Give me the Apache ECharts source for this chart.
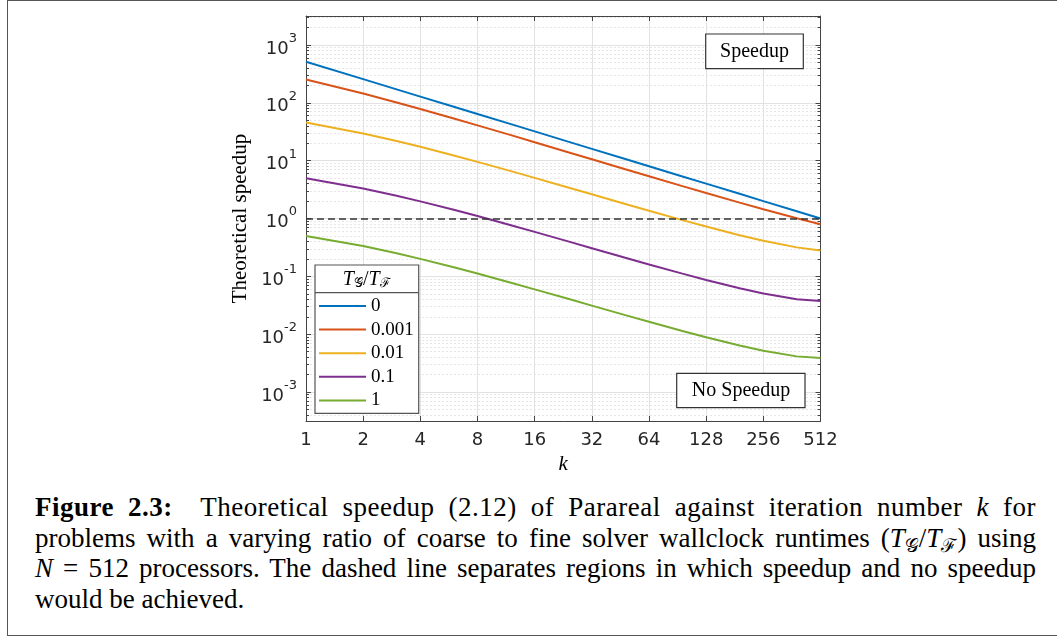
<!DOCTYPE html>
<html>
<head>
<meta charset="utf-8">
<script src="https://cdn.jsdelivr.net/npm/echarts@6/dist/echarts.min.js"></script>
<style>
  html, body { margin: 0; padding: 0; background: #fff; }
  body { width: 1057px; height: 640px; position: relative; overflow: hidden; }
  #frame { position: absolute; left: 7px; top: 0px; width: 1070px; height: 636px;
           border: 1px solid #555; box-sizing: border-box; }
  #chart { position: absolute; left: 0; top: 0; width: 1057px; height: 480px; }
  .cap { position: absolute; left: 35px; width: 1001px; font-family: "Liberation Serif", serif;
         font-size: 27px; line-height: 30.6px; color: #000; white-space: nowrap; }
  .just { text-align: justify; text-align-last: justify; }
  .m { font-style: italic; }
  .sub { font-size: 0.7em; vertical-align: -0.25em; font-style: normal; }
</style>
</head>
<body>
<div id="frame"></div>
<div id="chart"></div>
<div class="cap just" style="top: 492px; letter-spacing: 0.5px;"><b>Figure 2.3:</b>&nbsp; Theoretical speedup (2.12) of Parareal against iteration number <span class="m">k</span> for</div>
<div class="cap just" style="top: 522.6px;">problems with a varying ratio of coarse to fine solver wallclock runtimes (<span class="m">T</span><span class="sub">𝒢</span>/<span class="m">T</span><span class="sub">ℱ</span>) using</div>
<div class="cap just" style="top: 553.2px;"><span class="m">N</span> = 512 processors. The dashed line separates regions in which speedup and no speedup</div>
<div class="cap" style="top: 583.8px;">would be achieved.</div>
<script>
// iteration numbers k
const kValues = [1, 2, 3, 4, 6, 8, 12, 16, 24, 32, 48, 64, 96, 128, 192, 256, 384, 512];
// theoretical speedup for each ratio T_G / T_F
const speedup0 = [512, 256, 170.7, 128, 85.3, 64, 42.7, 32, 21.3, 16, 10.67, 8, 5.33, 4, 2.67, 2, 1.333, 1];
const speedup0001 = [253.1, 144.9, 101.5, 78.2, 53.5, 40.7, 27.6, 20.8, 14.0, 10.59, 7.12, 5.38, 3.63, 2.756, 1.88, 1.443, 1.009, 0.796];
const speedup001 = [45.6, 29.5, 21.9, 17.36, 12.3, 9.53, 6.58, 5.04, 3.44, 2.617, 1.783, 1.362, 0.938, 0.725, 0.515, 0.412, 0.317, 0.2805];
const speedup01 = [4.96, 3.297, 2.471, 1.977, 1.413, 1.101, 0.764, 0.587, 0.402, 0.3068, 0.2099, 0.1608, 0.1114, 0.0867, 0.0623, 0.0506, 0.0403, 0.0375];
const speedup1 = [0.5, 0.3336, 0.2504, 0.2005, 0.1435, 0.1118, 0.0777, 0.0596, 0.0409, 0.0312, 0.02137, 0.01638, 0.01135, 0.00884, 0.00636, 0.00517, 0.00414, 0.00388];
const ratioNames = ["0", "0.001", "0.01", "0.1", "1"];
const colors = ["#0072BD", "#D95319", "#EDB120", "#7E2F8E", "#77AC30"];

const chart = echarts.init(document.getElementById("chart"));
const serif = "Liberation Serif";

const allSeries = [speedup0, speedup0001, speedup001, speedup01, speedup1].map((vals, i) => ({
  name: ratioNames[i],
  type: "line",
  xAxisIndex: 0,
  yAxisIndex: 0,
  symbol: "none",
  z: 3,
  lineStyle: { width: 2, color: colors[i] },
  itemStyle: { color: colors[i] },
  data: kValues.map((k, j) => [k, vals[j]]),
}));
// dashed speedup = 1 line
allSeries[0].markLine = {
  silent: true,
  symbol: "none",
  label: { show: false },
  lineStyle: { color: "#333", width: 1.5, type: [7, 4] },
  data: [{ yAxis: 1 }],
};

const axisColor = "#444";
const gridColor = "#e2e2e2";

function yLabel(v) {
  const e = Math.log10(v);
  const r = Math.round(e);
  if (Math.abs(e - r) > 1e-6) return "";
  return "{b|10}{e|" + r + "}";
}

chart.setOption({
  animation: false,
  grid: { left: 306, right: 236.5, top: 16, bottom: 58 },
  legend: {
    orient: "vertical",
    left: 319,
    top: 296,
    padding: 0,
    icon: "rect",
    itemWidth: 47,
    itemHeight: 2,
    itemGap: 3.6,
    z: 5,
    data: ratioNames,
    textStyle: { fontFamily: serif, fontSize: 19, color: "#000", lineHeight: 20 },
  },
  xAxis: [
    {
      type: "log",
      logBase: 2,
      min: 1,
      max: 512,
      position: "bottom",
      name: "k",
      nameLocation: "middle",
      nameGap: 33,
      nameTextStyle: { fontFamily: serif, fontStyle: "italic", fontSize: 21, color: "#000" },
      axisLine: { show: true, lineStyle: { color: axisColor, width: 1 } },
      axisTick: { show: true, inside: true, length: 5, lineStyle: { color: axisColor } },
      axisLabel: { color: "#262626", fontSize: 18, fontFamily: "DejaVu Sans", margin: 10 },
      splitLine: { show: true, lineStyle: { color: gridColor, width: 1 } },
    },
    {
      type: "log",
      logBase: 2,
      min: 1,
      max: 512,
      position: "top",
      axisLine: { show: true, lineStyle: { color: axisColor, width: 1 } },
      axisTick: { show: true, inside: true, length: 5, lineStyle: { color: axisColor } },
      axisLabel: { show: false },
      splitLine: { show: false },
    },
  ],
  yAxis: [
    {
      type: "log",
      min: Math.pow(10, -3.5),
      max: Math.pow(10, 3.5),
      position: "left",
      name: "Theoretical speedup",
      nameLocation: "middle",
      nameRotate: 90,
      nameGap: 55,
      nameTextStyle: { fontFamily: serif, fontSize: 21, color: "#000" },
      axisLine: { show: true, lineStyle: { color: axisColor, width: 1 } },
      axisTick: { show: true, inside: true, length: 5, lineStyle: { color: axisColor } },
      minorTick: { show: true, splitNumber: 9, length: 3, lineStyle: { color: axisColor } },
      minorSplitLine: { show: true, lineStyle: { color: "#e6e6e6", type: [2, 2] } },
      axisLabel: {
        margin: 9,
        formatter: yLabel,
        rich: {
          b: { fontSize: 18, fontFamily: "DejaVu Sans", color: "#262626", lineHeight: 26, verticalAlign: "bottom" },
          e: { fontSize: 13, fontFamily: "DejaVu Sans", color: "#262626", lineHeight: 26, verticalAlign: "top" },
        },
      },
      splitLine: { show: true, lineStyle: { color: gridColor, width: 1 } },
    },
    {
      type: "log",
      min: Math.pow(10, -3.5),
      max: Math.pow(10, 3.5),
      position: "right",
      axisLine: { show: true, lineStyle: { color: axisColor, width: 1 } },
      axisTick: { show: true, inside: true, length: 5, lineStyle: { color: axisColor } },
      minorTick: { show: true, splitNumber: 9, length: 3, lineStyle: { color: axisColor } },
      axisLabel: { show: false },
      splitLine: { show: false },
    },
  ],
  graphic: [
    // legend box with title row
    { type: "rect", z: 4, shape: { x: 315, y: 265, width: 103.7, height: 148.3 },
      style: { fill: "#fff", stroke: "#555", lineWidth: 1.2 } },
    { type: "line", z: 4, shape: { x1: 315, y1: 292.7, x2: 418.7, y2: 292.7 },
      style: { stroke: "#555", lineWidth: 1.2 } },
    { type: "text", z: 5, x: 366.7, y: 280, style: {
        text: "{i|T}{s|𝒢}{n|/}{i|T}{s|ℱ}",
        align: "center", verticalAlign: "middle",
        rich: {
          i: { fontFamily: serif, fontStyle: "italic", fontSize: 20, fill: "#000" },
          n: { fontFamily: serif, fontSize: 20, fill: "#000" },
          s: { fontFamily: serif, fontSize: 13, fill: "#000", padding: [8, 0, 0, 0] },
        },
      } },
    // annotation boxes
    { type: "rect", z: 4, shape: { x: 705.7, y: 34, width: 97.6, height: 34.7 },
      style: { fill: "#fff", stroke: "#333", lineWidth: 1.2 } },
    { type: "text", z: 5, x: 754.5, y: 51.5, style: {
        text: "Speedup", fontFamily: serif, fontSize: 20, fill: "#000",
        align: "center", verticalAlign: "middle" } },
    { type: "rect", z: 4, shape: { x: 676.7, y: 373.3, width: 128.3, height: 34.4 },
      style: { fill: "#fff", stroke: "#333", lineWidth: 1.2 } },
    { type: "text", z: 5, x: 741, y: 390.5, style: {
        text: "No Speedup", fontFamily: serif, fontSize: 20, fill: "#000",
        align: "center", verticalAlign: "middle" } },
  ],
  series: allSeries,
});
</script>
</body>
</html>
